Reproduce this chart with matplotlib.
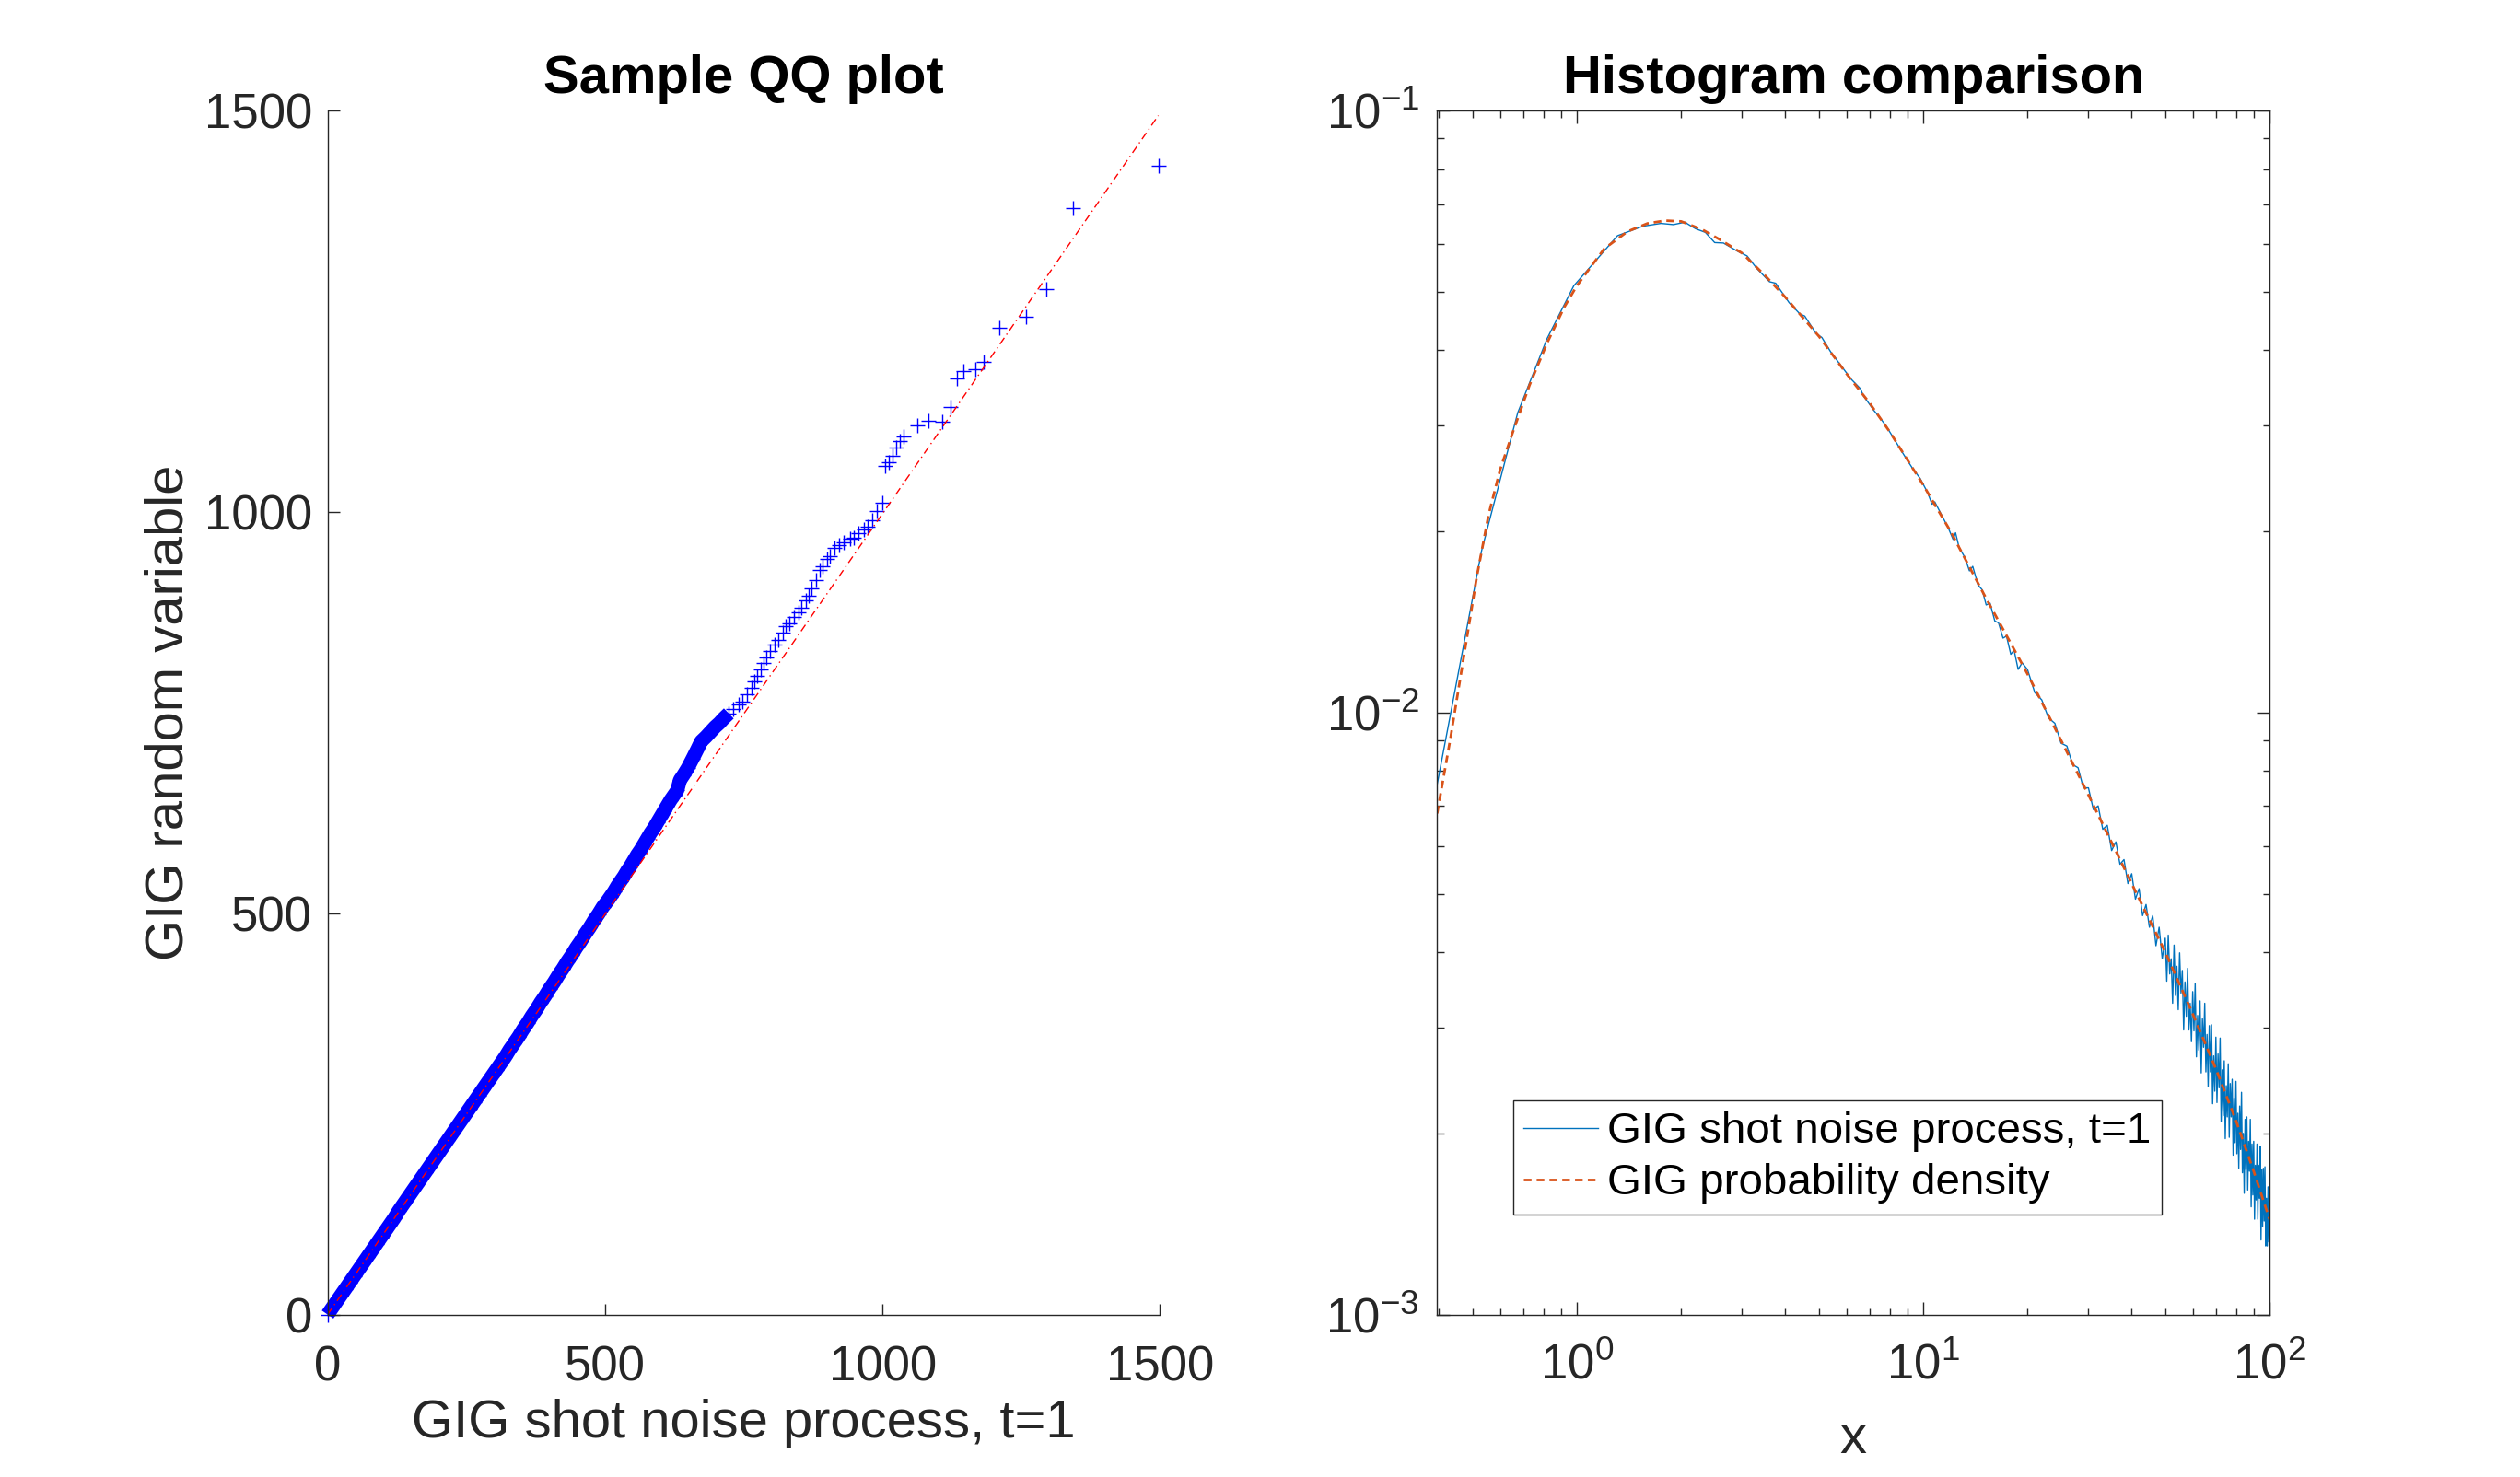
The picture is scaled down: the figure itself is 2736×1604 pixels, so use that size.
import matplotlib
matplotlib.use('Agg')
import matplotlib.pyplot as plt

plt.rcParams['font.family'] = ['Liberation Sans', 'DejaVu Sans']
plt.rcParams['mathtext.fontset'] = 'custom'
plt.rcParams['mathtext.rm'] = 'Liberation Sans'

# --- QQ plot data (sample quantiles) ---
qq_x = [0, 8, 16, 24, 32, 40, 48, 56, 64, 72, 80, 88, 96, 104, 112, 120, 128, 136, 144, 152,
        160, 168, 176, 184, 192, 200, 208, 216, 224, 232, 240, 248, 256, 264, 272, 280, 288, 296,
        304, 312, 320, 328, 336, 344, 352, 360, 368, 376, 384, 392, 400, 408, 416, 424, 432, 440,
        448, 456, 464, 472, 480, 488, 496,
        504, 510, 516, 522, 528, 534, 540, 546, 552, 558, 564, 570, 576, 582, 588, 594, 600, 606,
        612, 618, 624, 630,
        635, 641, 649, 658, 666, 673, 682, 690, 698, 706, 714, 723, 731, 740, 747, 755, 764, 769,
        774, 780, 785, 790, 798, 805, 813, 821, 826, 832, 840, 848, 854, 862, 867, 872, 881, 887,
        892, 900, 905, 913, 921, 930, 941, 949, 957, 966, 973, 982, 990,
        999, 1005, 1011, 1018, 1024, 1031, 1038, 1063, 1082, 1107, 1122, 1134, 1145, 1167, 1183,
        1210, 1258, 1296, 1344, 1497]
qq_y = [0, 8, 16, 24, 32, 40, 48, 56, 64, 72, 80, 88, 96, 104, 112, 120, 129, 137, 145, 153,
        161, 169, 177, 185, 193, 201, 209, 217, 225, 233, 241, 249, 257, 265, 273, 281, 289, 297,
        305, 313, 321, 330, 338, 346, 355, 363, 372, 380, 389, 397, 406, 414, 423, 431, 440, 448,
        457, 465, 474, 482, 491, 499, 508,
        515, 521, 527, 534, 540, 546, 553, 559, 566, 573, 579, 586, 593, 600, 606, 613, 620, 627,
        634, 641, 647, 653,
        666, 672, 681, 693, 704, 714, 720, 726, 732, 737, 743, 749, 755, 760, 764, 773, 781, 789,
        796, 804, 812, 819, 827, 835, 840, 850, 858, 861, 869, 875, 881, 890, 896, 905, 915, 928,
        932, 941, 945, 955, 959, 962, 967, 968, 974, 978, 982, 990, 1001,
        1012, 1058, 1062, 1070, 1080, 1088, 1094, 1108, 1114, 1113, 1131, 1166, 1176, 1178, 1187,
        1230, 1243, 1278, 1379, 1432]
ref_x = [0, 1497]
ref_y = [0, 1494]
dense_end = 723   # 以下部分的标记重叠成一条实线

# --- histogram comparison data ---
pdf_x = [0.395, 0.432, 0.476, 0.514, 0.556, 0.6, 0.65, 0.73, 0.82, 0.92, 1.0, 1.2, 1.4, 1.6,
         1.8, 2.0, 2.3, 2.6, 3.0, 3.5, 4.0, 5.0, 6.0, 7.0, 8.0, 10, 12, 15, 20, 25, 30, 40, 50,
         60, 70, 80, 90, 100]
pdf_y = [0.0068, 0.0091, 0.0128, 0.0168, 0.0213, 0.0253, 0.0290, 0.0350, 0.0411, 0.0472,
         0.0512, 0.0590, 0.0630, 0.0650, 0.0657, 0.0655, 0.0635, 0.0610, 0.0580, 0.0532, 0.0490,
         0.0422, 0.0366, 0.0327, 0.0293, 0.0239, 0.0200, 0.0157, 0.0116, 0.0090, 0.0073, 0.0052,
         0.0040, 0.00316, 0.00256, 0.00210, 0.00173, 0.00144]

hist_x = [0.395, 0.531, 0.675, 0.82, 0.98, 1.31, 1.55, 1.75, 1.9, 2.05, 2.2, 2.35, 2.5, 2.65,
          2.9, 3.1, 3.3, 3.6, 3.75, 4.1, 4.4, 4.55, 4.9, 5.1, 5.4, 5.9, 6.2, 6.6, 6.7, 7.2, 7.5,
          7.8, 8.3, 8.8, 9.3, 9.8, 10.3, 10.6, 10.8, 11.3, 11.8, 12.2, 12.4, 12.7, 13.2, 13.6,
          13.9, 14.4, 14.8, 15.2, 15.6, 16.1, 16.5, 17.0, 17.4, 17.9, 18.3, 18.8, 19.3,
          20, 21, 22, 23, 24, 25, 26, 27, 28, 29, 30, 31, 32, 33, 34, 35, 36, 37, 38, 39,
          40, 41, 42, 43, 44, 45, 46, 47, 48, 49,
          50, 50.5, 51, 51.5, 52, 52.5, 53, 53.5, 54, 54.5, 55, 55.5, 56, 56.5, 57, 57.5,
          58, 58.5, 59, 59.5, 60, 60.5, 61, 61.5, 62, 62.5, 63, 63.5, 64, 64.5, 65, 65.5,
          66, 66.5, 67, 67.5, 68, 68.5, 69, 69.5, 70, 70.5, 71, 71.5, 72, 72.5, 73, 73.5,
          74, 74.5, 75, 75.5, 76, 76.5, 77, 77.5, 78, 78.5, 79, 79.5, 80, 80.5, 81, 81.5,
          82, 82.5, 83, 83.5, 84, 84.5, 85, 85.5, 86, 86.5, 87, 87.5, 88, 88.5, 89, 89.5,
          90, 90.5, 91, 91.5, 92, 92.5, 93, 93.5, 94, 94.5, 95, 95.5, 96, 96.5, 97, 97.5,
          98, 98.5, 99, 99.5, 100]
hist_y = [0.0076, 0.0186, 0.0315, 0.0418, 0.0512, 0.0620, 0.0643, 0.0650, 0.0647, 0.0653,
          0.0637, 0.0628, 0.0604, 0.0603, 0.0585, 0.0574, 0.0548, 0.0520, 0.0517, 0.0480,
          0.0460, 0.0456, 0.0427, 0.0420, 0.0398, 0.0372, 0.0358, 0.0345, 0.0337, 0.0318,
          0.0309, 0.0300, 0.0283, 0.0268, 0.0255, 0.0245, 0.0232, 0.0222, 0.0224, 0.0213,
          0.0203, 0.0194, 0.0199, 0.0188, 0.0181, 0.0172, 0.0175, 0.0163, 0.0160, 0.0151,
          0.0152, 0.0142, 0.0141, 0.0133, 0.0134, 0.0125, 0.0127, 0.0118, 0.0121,
          0.0118, 0.0108, 0.0105, 0.0098, 0.0096, 0.0089, 0.0088, 0.0082, 0.0081, 0.0075,
          0.0075, 0.0069, 0.0070, 0.0064, 0.0065, 0.0059, 0.0061, 0.0056, 0.0057, 0.0052,
          0.0054, 0.0049, 0.0051, 0.0046, 0.0048, 0.0044, 0.0046, 0.0041, 0.0044, 0.0039,
          0.00422, 0.00358, 0.00427, 0.00368, 0.00390, 0.00329, 0.00411, 0.00339, 0.00379,
          0.00321, 0.00399, 0.00342, 0.00373, 0.00297, 0.00357, 0.00313, 0.00376, 0.00297,
          0.00329, 0.00284, 0.00344, 0.00296, 0.00355, 0.00268, 0.00314, 0.00275, 0.00332,
          0.00252, 0.00310, 0.00278, 0.00329, 0.00253, 0.00292, 0.00239, 0.00302, 0.00253,
          0.00303, 0.00224, 0.00269, 0.00235, 0.00289, 0.00225, 0.00271, 0.00238, 0.00288,
          0.00209, 0.00255, 0.00214, 0.00264, 0.00196, 0.00240, 0.00213, 0.00261, 0.00197,
          0.00242, 0.00213, 0.00246, 0.00184, 0.00229, 0.00193, 0.00244, 0.00185, 0.00216,
          0.00175, 0.00222, 0.00188, 0.00234, 0.00172, 0.00200, 0.00159, 0.00211, 0.00174,
          0.00213, 0.00161, 0.00194, 0.00173, 0.00211, 0.00151, 0.00192, 0.00158, 0.00194,
          0.00144, 0.00177, 0.00155, 0.00192, 0.00144, 0.00177, 0.00156, 0.00190, 0.00133,
          0.00174, 0.00140, 0.00175, 0.00143, 0.00176, 0.00130, 0.00156, 0.00130, 0.00163,
          0.00132, 0.00153]

axcol = '#262626'
fs = 19

fig = plt.figure(figsize=(13.68, 8.02), dpi=200)

# 左图: QQ plot
ax1 = fig.add_axes([0.13, 0.11, 0.3303, 0.815])
n_dense = sum(1 for v in qq_x if v <= dense_end)
ax1.plot(qq_x[:n_dense], qq_y[:n_dense], color='blue', linewidth=5.5,
         solid_capstyle='butt', clip_on=False)
ax1.plot(qq_x, qq_y, '+', color='blue', markersize=6, markeredgewidth=0.5, clip_on=False)
ax1.plot(ref_x, ref_y, color='red', linewidth=0.5, dashes=(6, 3, 1, 3))
ax1.set_xlim(0, 1500)
ax1.set_ylim(0, 1500)
ax1.set_xticks([0, 500, 1000, 1500])
ax1.set_yticks([0, 500, 1000, 1500])
ax1.spines['top'].set_visible(False)
ax1.spines['right'].set_visible(False)
for s in ['left', 'bottom']:
    ax1.spines[s].set_color(axcol)
    ax1.spines[s].set_linewidth(0.5)
ax1.tick_params(direction='in', length=4.5, width=0.5, colors=axcol, labelsize=fs)
ax1.tick_params(axis='x', pad=12)
ax1.tick_params(axis='y', pad=6)
ax1.set_xlabel('GIG shot noise process, t=1', fontsize=fs * 1.1, color=axcol, labelpad=3)
ax1.set_ylabel('GIG random variable', fontsize=fs * 1.1, color=axcol, labelpad=4)
ax1.set_title('Sample QQ plot', fontsize=fs * 1.1, fontweight='bold', pad=7)

# 右图: histogram comparison
ax2 = fig.add_axes([0.5703, 0.11, 0.3303, 0.815])
ax2.plot(hist_x, hist_y, color=(0, 0.447, 0.741), linewidth=0.5, label='GIG shot noise process, t=1')
ax2.plot(pdf_x, pdf_y, color=(0.85, 0.325, 0.098), linewidth=1.0, dashes=(3, 2),
         label='GIG probability density')
ax2.set_xscale('log')
ax2.set_yscale('log')
ax2.set_xlim(0.395, 100)
ax2.set_ylim(1e-3, 1e-1)
for s in ax2.spines.values():
    s.set_color(axcol)
    s.set_linewidth(0.5)
ax2.tick_params(which='both', direction='in', top=True, right=True, colors=axcol, width=0.5)
ax2.tick_params(which='major', length=5, labelsize=fs)
ax2.tick_params(which='minor', length=2.7)
ax2.tick_params(axis='x', pad=11)
ax2.tick_params(axis='y', pad=7)
ax2.set_xlabel('x', fontsize=fs * 1.1, color=axcol, labelpad=10)
ax2.set_title('Histogram comparison', fontsize=fs * 1.1, fontweight='bold', pad=7)

leg = ax2.legend(loc='lower left', bbox_to_anchor=(0.091, 0.083), borderaxespad=0,
                 fontsize=fs * 0.9, fancybox=False, framealpha=1, handlelength=1.7,
                 handletextpad=0.2, borderpad=0.25, labelspacing=0.25)
leg.get_frame().set_edgecolor(axcol)
leg.get_frame().set_linewidth(0.5)

fig.savefig('out.png', dpi=200, facecolor='white')
